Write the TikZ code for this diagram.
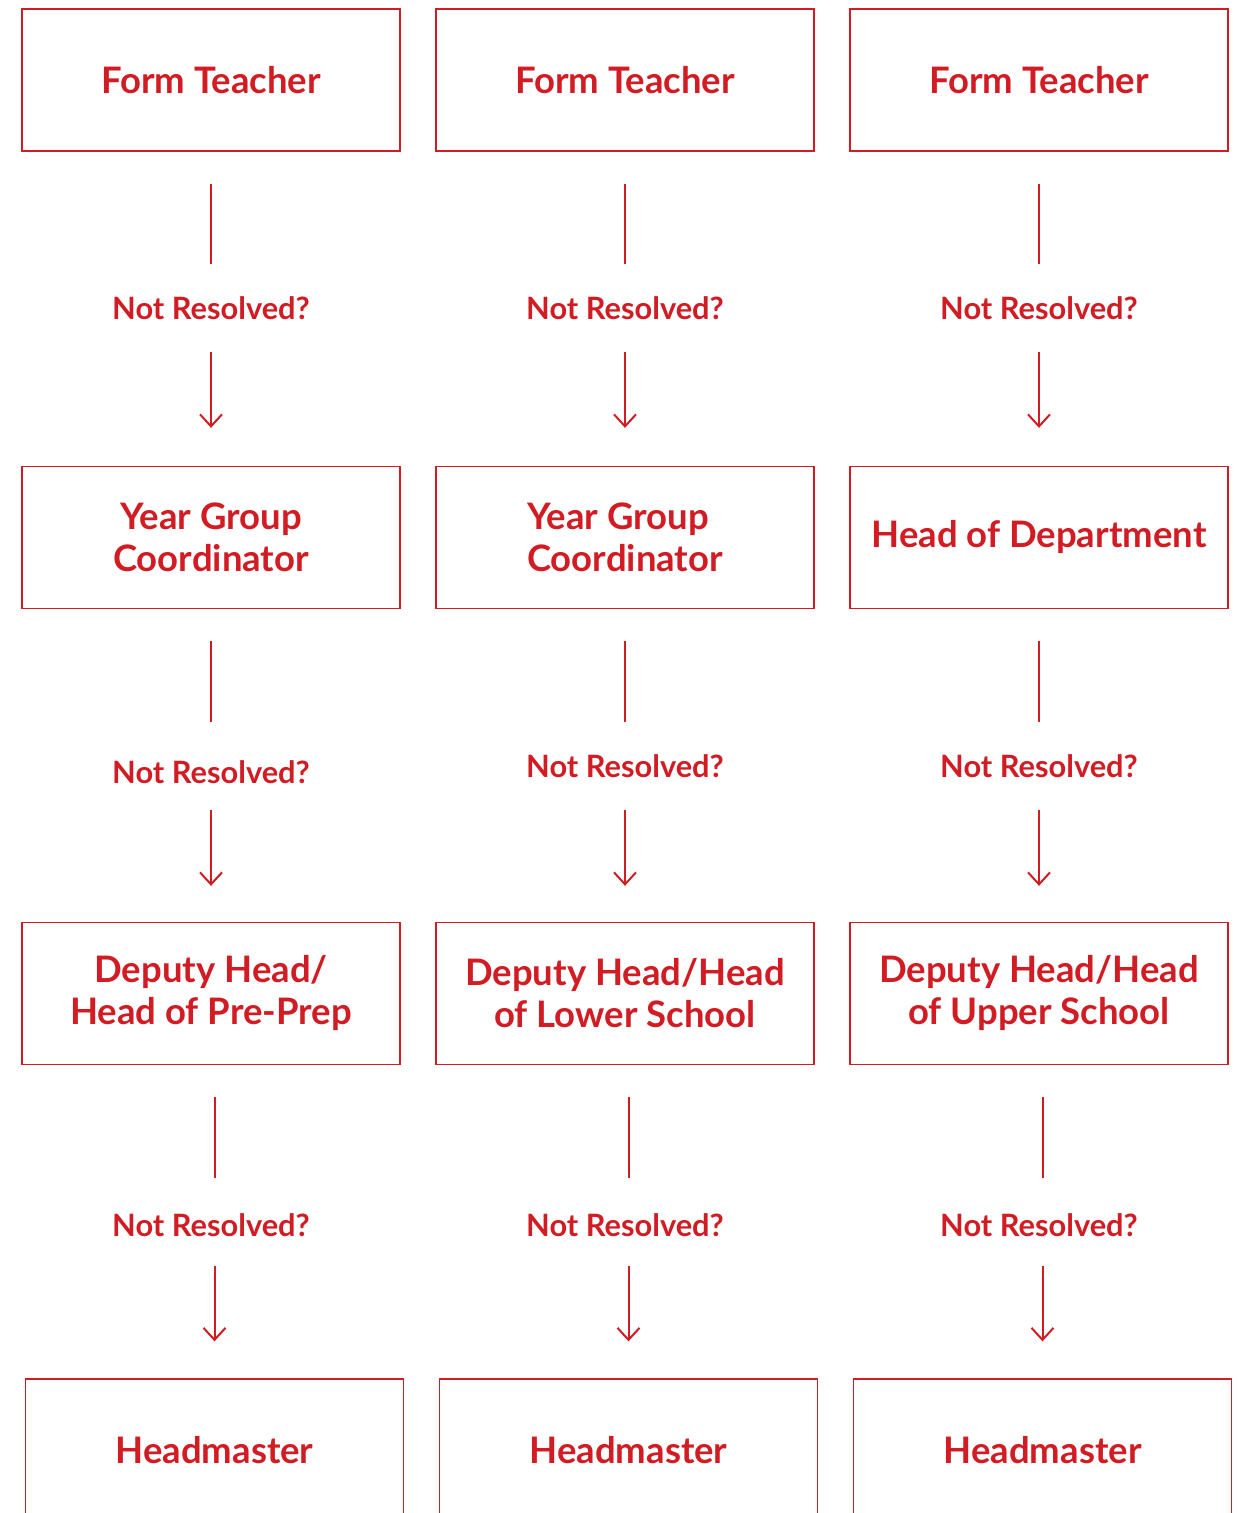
\documentclass[tikz,border=0pt]{standalone}
\usepackage{fontspec}
\setmainfont{Lato}
\usetikzlibrary{positioning,arrows.meta}
\definecolor{fcred}{RGB}{210,28,36}

\begin{document}
\begin{tikzpicture}[x=1pt,y=1pt,
    box/.style={draw=fcred, line width=1.3pt, minimum width=378pt, minimum height=142pt, inner sep=0pt,
                text=fcred, align=center, font=\fontsize{36.5}{42}\selectfont\bfseries},
    ask/.style={text=fcred, inner sep=0pt, font=\fontsize{30.8}{36}\selectfont\bfseries},
    stem/.style={draw=fcred, line width=2pt},
    tip/.style={stem, -{Straight Barb[length=12pt,width=22pt]}}]
				\useasboundingbox (0,0) rectangle (1239,1513);
				\clip (0,0) rectangle (1239,1513);
				% first row
				\node [box] (ft1) at (211,1433) {Form Teacher};          \node [box] (ft2) at (625,1433) {Form Teacher};
				\node [box] (ft3) at (1039,1433) {Form Teacher};
				% second row
				\node [box] (yg1) at (211,975.5) {Year Group\\Coordinator}; \node [box,align=left] (yg2) at (625,975.5) {Year Group\\Coordinator};
				\node [box] (hod) at (1039,975.5) {Head of Department};
				% third row
				\node [box] (dh1) at (211,519.5) {Deputy Head/\\Head of Pre-Prep}; \node [box] (dh2) at (625,519.5) {Deputy Head/Head\\of Lower School};
				\node [box] (dh3) at (1039,519.5) {Deputy Head/Head\\of Upper School};
				% last row, cut by the page
				\node [box] (hm1) at (214.5,63) {Headmaster};            \node [box] (hm2) at (628.5,63) {Headmaster};
				\node [box] (hm3) at (1042.5,63) {Headmaster};
				% questions
				\node [ask, below = 145pt of ft1] (nr1) {Not Resolved?};  \node [ask, below = 145pt of ft2] (nr2) {Not Resolved?};
				\node [ask, below = 145pt of ft3] (nr3) {Not Resolved?};
				\node [ask, below = 151pt of yg1] (nr4) {Not Resolved?};  \node [ask, below = 145pt of yg2] (nr5) {Not Resolved?};
				\node [ask, below = 145pt of hod] (nr6) {Not Resolved?};
				\node [ask, below = 148pt of dh1] (nr7) {Not Resolved?};  \node [ask, below = 148pt of dh2] (nr8) {Not Resolved?};
				\node [ask, below = 148pt of dh3] (nr9) {Not Resolved?};
				% stems and arrows
				\draw [stem] ([yshift=-32pt]ft1.south) -- ([yshift=44pt]nr1.center);  \draw [tip] ([yshift=-44pt]nr1.center) -- ([yshift=38pt]yg1.north);
				\draw [stem] ([yshift=-32pt]ft2.south) -- ([yshift=44pt]nr2.center);  \draw [tip] ([yshift=-44pt]nr2.center) -- ([yshift=38pt]yg2.north);
				\draw [stem] ([yshift=-32pt]ft3.south) -- ([yshift=44pt]nr3.center);  \draw [tip] ([yshift=-44pt]nr3.center) -- ([yshift=38pt]hod.north);
				\draw [stem] ([yshift=-32pt]yg1.south) -- ([yshift=50pt]nr4.center);  \draw [tip] ([yshift=-38pt]nr4.center) -- ([yshift=36pt]dh1.north);
				\draw [stem] ([yshift=-32pt]yg2.south) -- ([yshift=44pt]nr5.center);  \draw [tip] ([yshift=-44pt]nr5.center) -- ([yshift=36pt]dh2.north);
				\draw [stem] ([yshift=-32pt]hod.south) -- ([yshift=44pt]nr6.center);  \draw [tip] ([yshift=-44pt]nr6.center) -- ([yshift=36pt]dh3.north);
				\draw [stem] ([xshift=3.5pt,yshift=-32pt]dh1.south) -- ([xshift=3.5pt,yshift=47pt]nr7.center);
				\draw [tip] ([xshift=3.5pt,yshift=-41pt]nr7.center) -- ([yshift=37pt]hm1.north);
				\draw [stem] ([xshift=3.5pt,yshift=-32pt]dh2.south) -- ([xshift=3.5pt,yshift=47pt]nr8.center);
				\draw [tip] ([xshift=3.5pt,yshift=-41pt]nr8.center) -- ([yshift=37pt]hm2.north);
				\draw [stem] ([xshift=3.5pt,yshift=-32pt]dh3.south) -- ([xshift=3.5pt,yshift=47pt]nr9.center);
				\draw [tip] ([xshift=3.5pt,yshift=-41pt]nr9.center) -- ([yshift=37pt]hm3.north);
\end{tikzpicture}
\end{document}
